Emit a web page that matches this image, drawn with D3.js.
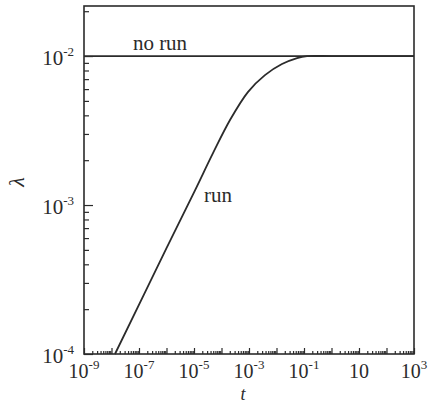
<!DOCTYPE html>
<html>
<head>
<meta charset="utf-8">
<script src="https://cdn.jsdelivr.net/npm/d3@7"></script>
<style>
  body { margin: 0; background: #fff; }
  svg text { font-family: "Liberation Serif", "Times New Roman", "DejaVu Serif", serif; fill: #2b2b2b; }
</style>
</head>
<body>
<div id="chart"></div>
<script>
// chart data
var runT      = [1.34e-8, 1e-6, 1.1e-5, 4.9e-5, 2.04e-4, 9.1e-4, 3.8e-3, 1.58e-2, 5.6e-2, 0.129, 1, 10, 1000];
var runLambda = [1e-4, 5.13e-4, 1.26e-3, 2.23e-3, 3.72e-3, 5.73e-3, 7.45e-3, 8.84e-3, 9.7e-3, 1e-2, 1e-2, 1e-2, 1e-2];
var noRunT      = [1e-9, 1e3];
var noRunLambda = [1e-2, 1e-2];

var xTickValues = [1e-9, 1e-7, 1e-5, 1e-3, 1e-1, 10, 1e3];
var xTickExps   = ["-9", "-7", "-5", "-3", "-1", "", "3"];
var yTickValues = [1e-4, 1e-3, 1e-2];
var yTickExps   = ["-4", "-3", "-2"];

var svgWidth = 434;
var svgHeight = 404;
var margin = { top: 6, right: 20, bottom: 50, left: 84 };
var width = svgWidth - margin.left - margin.right;
var height = svgHeight - margin.top - margin.bottom;
var serif = "'Liberation Serif', 'Times New Roman', serif";

var svg = d3.select("#chart")
  .append("svg")
  .attr("width", svgWidth)
  .attr("height", svgHeight)
  .attr("font-family", serif);

var chartGroup = svg.append("g")
  .attr("transform", `translate(${margin.left}, ${margin.top})`);

var xScale = d3.scaleLog()
  .domain([1e-9, 1e3])
  .range([0, width]);

var yScale = d3.scaleLog()
  .domain([1e-4, Math.pow(10, -1.664)])
  .range([height, 0]);

var ink = "#2b2b2b";

// minor + major ticks, pointing inward
var xMinor = [], xMajor = [];
for (var e = -9; e < 3; e++) {
  xMajor.push(Math.pow(10, e));
  for (var m = 2; m <= 9; m++) xMinor.push(m * Math.pow(10, e));
}
xMajor.push(1e3);

var yMinor = [], yMajor = [];
for (var e2 = -4; e2 <= -2; e2++) {
  yMajor.push(Math.pow(10, e2));
  for (var m2 = 2; m2 <= 9; m2++) {
    var v = m2 * Math.pow(10, e2);
    if (v <= yScale.domain()[1]) yMinor.push(v);
  }
}

function styleAxis(g) {
  g.select(".domain").remove();
  g.selectAll("line").attr("stroke", ink).attr("stroke-width", 1.2);
}

chartGroup.append("g")
  .attr("transform", `translate(0, ${height})`)
  .call(d3.axisBottom(xScale).tickValues(xMinor).tickSize(-3).tickFormat(""))
  .call(styleAxis);
chartGroup.append("g")
  .attr("transform", `translate(0, ${height})`)
  .call(d3.axisBottom(xScale).tickValues(xMajor).tickSize(-6).tickFormat(""))
  .call(styleAxis);

chartGroup.append("g")
  .call(d3.axisLeft(yScale).tickValues(yMinor).tickSize(-5).tickFormat(""))
  .call(styleAxis);
chartGroup.append("g")
  .call(d3.axisLeft(yScale).tickValues(yMajor).tickSize(-9).tickFormat(""))
  .call(styleAxis);

// frame
chartGroup.append("rect")
  .attr("x", 0).attr("y", 0)
  .attr("width", width).attr("height", height)
  .attr("fill", "none")
  .attr("stroke", ink)
  .attr("stroke-width", 1.6);

// tick labels
var xLabels = chartGroup.selectAll(".xlab")
  .data(xTickValues)
  .enter()
  .append("text")
  .attr("class", "xlab")
  .attr("x", d => xScale(d))
  .attr("y", height + 24)
  .attr("text-anchor", "middle")
  .attr("font-size", "20px");
xLabels.append("tspan").text("10");
xLabels.append("tspan")
  .attr("font-size", "13px")
  .attr("dy", -9)
  .text((d, i) => xTickExps[i]);

var yLabels = chartGroup.selectAll(".ylab")
  .data(yTickValues)
  .enter()
  .append("text")
  .attr("class", "ylab")
  .attr("x", -10)
  .attr("y", d => yScale(d) + 9)
  .attr("text-anchor", "end")
  .attr("font-size", "21px");
yLabels.append("tspan").text("10");
yLabels.append("tspan")
  .attr("font-size", "13px")
  .attr("dy", -9)
  .text((d, i) => yTickExps[i]);

// lines
var line = d3.line()
  .x(d => xScale(d[0]))
  .y(d => yScale(d[1]))
  .curve(d3.curveCatmullRom.alpha(0.5));

chartGroup.append("path")
  .datum(noRunT.map((t, i) => [t, noRunLambda[i]]))
  .attr("d", line)
  .attr("fill", "none")
  .attr("stroke", ink)
  .attr("stroke-width", 1.8);

chartGroup.append("path")
  .datum(runT.map((t, i) => [t, runLambda[i]]))
  .attr("d", line)
  .attr("fill", "none")
  .attr("stroke", ink)
  .attr("stroke-width", 1.8);

// curve labels
chartGroup.append("text")
  .attr("x", 160 - margin.left)
  .attr("y", yScale(1e-2) - 6)
  .attr("text-anchor", "middle")
  .attr("font-size", "21px")
  .text("no run");

chartGroup.append("text")
  .attr("x", xScale(2.3e-5))
  .attr("y", yScale(1e-3) - 3)
  .attr("text-anchor", "start")
  .attr("font-size", "21px")
  .text("run");

// axis titles
svg.append("text")
  .attr("transform", "translate(24, 182) rotate(-90)")
  .attr("text-anchor", "middle")
  .attr("font-size", "22px")
  .attr("font-style", "italic")
  .text("\u03bb");

svg.append("text")
  .attr("x", 243)
  .attr("y", 400)
  .attr("text-anchor", "middle")
  .attr("font-size", "18px")
  .attr("font-style", "italic")
  .text("t");
</script>
</body>
</html>
